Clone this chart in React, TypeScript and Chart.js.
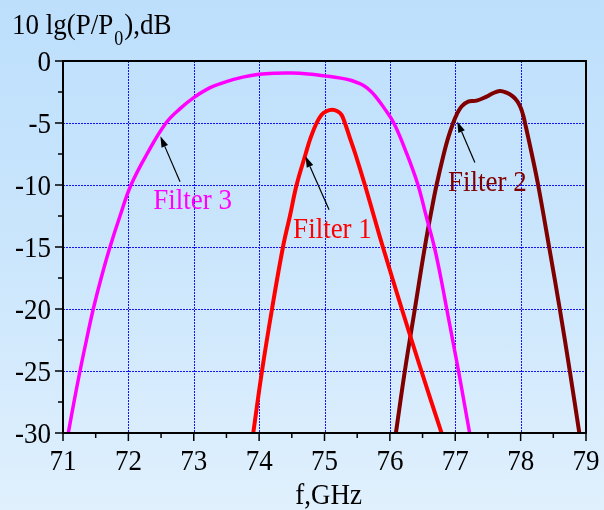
import { useEffect, useRef } from 'react';
import { Chart, registerables } from 'chart.js';

Chart.register(...registerables);

// Frequency axis (GHz) and level axis (dB) ranges
const freqMin = 71;
const freqMax = 79;
const levelMin = -30;
const levelMax = 0;
const freqTicks = [71, 72, 73, 74, 75, 76, 77, 78, 79];
const levelTicks = [0, -5, -10, -15, -20, -25, -30];

// Filter 1 response
const filter1Freq = [73.91, 74.044, 74.197, 74.365, 74.471, 74.573, 74.711, 74.787, 74.879, 74.956, 75.029, 75.118, 75.197, 75.261, 75.312, 75.388, 75.472, 75.618, 75.755, 75.893, 76.183, 76.482, 76.791];
const filter1Level = [-30, -25, -20, -15, -12.5, -10, -7.5, -6.2, -5, -4.34, -4.05, -3.94, -4.05, -4.34, -5, -6.2, -7.5, -10, -12.5, -15, -20, -25, -30];

// Filter 2 response
const filter2Freq = [76.092, 76.229, 76.382, 76.535, 76.653, 76.714, 76.815, 76.891, 76.968, 77.02, 77.096, 77.197, 77.326, 77.479, 77.575, 77.682, 77.784, 77.88, 77.95, 78.0, 78.04, 78.08, 78.171, 78.268, 78.436, 78.599, 78.752, 78.898];
const filter2Level = [-30, -25, -20, -15, -11.6, -10, -7.7, -6.2, -5, -4.34, -3.67, -3.27, -3.2, -2.87, -2.6, -2.41, -2.55, -2.85, -3.25, -3.75, -4.4, -5.3, -7.5, -10, -15, -20, -25, -30];

// Filter 3 response
const filter3Freq = [71.081, 71.168, 71.26, 71.359, 71.463, 71.584, 71.719, 71.872, 72.04, 72.284, 72.575, 72.8, 73.0, 73.25, 73.5, 73.75, 74.0, 74.25, 74.5, 74.75, 75.0, 75.25, 75.4, 75.52, 75.62, 75.7, 75.78, 75.9, 76.06, 76.26, 76.43, 76.555, 76.68, 76.78, 76.87, 76.96, 77.05, 77.135, 77.22];
const filter3Level = [-30, -27.5, -25, -22.5, -20, -17.5, -15, -12.5, -10, -7.5, -5, -3.8, -2.95, -2.15, -1.66, -1.3, -1.07, -0.98, -0.97, -1.05, -1.2, -1.38, -1.55, -1.78, -2.05, -2.4, -2.85, -3.7, -5, -7.5, -10, -12.5, -15, -17.5, -20, -22.5, -25, -27.5, -30];

// Curve labels: text, colour, label anchor (left, baseline) and arrow tail/tip, in axis units
const labelNames = ['Filter 1', 'Filter 2', 'Filter 3'];
const labelColors = ['#ff0000', '#800000', '#ff00ff'];
const labelAnchors = [[74.52, -14.3], [76.89, -10.45], [72.38, -11.9]];
const arrowTails = [[75.07, -12.0], [77.3, -8.18], [72.79, -9.73]];
const arrowTips = [[74.71, -7.69], [77.03, -4.88], [72.49, -6.07]];

const FONT = '"Liberation Serif", "Times New Roman", serif';
const SX = 0.9;

function toPoints(xs: number[], ys: number[]) {
  return xs.map((x, i) => ({ x, y: ys[i] }));
}

function drawText(
  ctx: CanvasRenderingContext2D,
  text: string,
  x: number,
  y: number,
  align: CanvasTextAlign,
  size: number,
  color: string,
) {
  ctx.save();
  ctx.translate(x, y);
  ctx.scale(SX, 1);
  ctx.font = `${size}px ${FONT}`;
  ctx.fillStyle = color;
  ctx.textAlign = align;
  ctx.textBaseline = 'alphabetic';
  ctx.fillText(text, 0, 0);
  ctx.restore();
}

const frame = {
  id: 'frame',
  beforeDatasetsDraw(chart: any) {
    const { ctx, chartArea: a, scales } = chart;
    const xs = scales.x;
    const ys = scales.y;
    ctx.save();
    ctx.strokeStyle = '#1414f0';
    ctx.lineWidth = 1;
    ctx.setLineDash([2, 1]);
    freqTicks.slice(1, -1).forEach((v) => {
      const px = Math.round(xs.getPixelForValue(v)) + 0.5;
      ctx.beginPath();
      ctx.moveTo(px, a.top);
      ctx.lineTo(px, a.bottom);
      ctx.stroke();
    });
    levelTicks.slice(1, -1).forEach((v) => {
      const py = Math.round(ys.getPixelForValue(v)) + 0.5;
      ctx.beginPath();
      ctx.moveTo(a.left, py);
      ctx.lineTo(a.right, py);
      ctx.stroke();
    });
    ctx.restore();
  },
  afterDraw(chart: any) {
    const { ctx, chartArea: a, scales } = chart;
    const xs = scales.x;
    const ys = scales.y;
    ctx.save();
    // box
    ctx.strokeStyle = '#000';
    ctx.lineWidth = 2;
    ctx.setLineDash([]);
    ctx.strokeRect(a.left, a.top, a.right - a.left, a.bottom - a.top);

    // tick marks (major and half-step minor)
    ctx.lineWidth = 1.5;
    for (let v = freqMin; v <= freqMax + 1e-9; v += 0.5) {
      const px = xs.getPixelForValue(v);
      const major = Math.abs(v - Math.round(v)) < 1e-6;
      ctx.beginPath();
      ctx.moveTo(px, a.bottom);
      ctx.lineTo(px, a.bottom + (major ? 8 : 5));
      ctx.stroke();
    }
    for (let v = levelMin; v <= levelMax + 1e-9; v += 2.5) {
      const py = ys.getPixelForValue(v);
      const major = Math.abs(v / 5 - Math.round(v / 5)) < 1e-6;
      ctx.beginPath();
      ctx.moveTo(a.left, py);
      ctx.lineTo(a.left - (major ? 8 : 5), py);
      ctx.stroke();
    }

    // tick labels
    freqTicks.forEach((v) => {
      drawText(ctx, String(v), xs.getPixelForValue(v), a.bottom + 37, 'center', 30, '#000');
    });
    levelTicks.forEach((v) => {
      drawText(ctx, String(v), a.left - 12, ys.getPixelForValue(v) + 10, 'right', 30, '#000');
    });

    // axis titles
    drawText(ctx, 'f,GHz', (a.left + a.right) / 2 + 4, 504, 'center', 30, '#000');
    const t1 = '10 lg(P/P';
    ctx.font = `30px ${FONT}`;
    const w1 = ctx.measureText(t1).width * SX;
    drawText(ctx, t1, 12, 34, 'left', 30, '#000');
    ctx.font = `20px ${FONT}`;
    const w2 = ctx.measureText('0').width * SX;
    drawText(ctx, '0', 12 + w1 + 1, 45, 'left', 20, '#000');
    drawText(ctx, '),dB', 12 + w1 + w2 + 2, 34, 'left', 30, '#000');

    // curve labels with arrows
    labelNames.forEach((name, i) => {
      const lx = xs.getPixelForValue(labelAnchors[i][0]);
      const ly = ys.getPixelForValue(labelAnchors[i][1]);
      drawText(ctx, name, lx, ly, 'left', 30, labelColors[i]);

      const x0 = xs.getPixelForValue(arrowTails[i][0]);
      const y0 = ys.getPixelForValue(arrowTails[i][1]);
      const x1 = xs.getPixelForValue(arrowTips[i][0]);
      const y1 = ys.getPixelForValue(arrowTips[i][1]);
      const ang = Math.atan2(y1 - y0, x1 - x0);
      const headLen = 11;
      const headHalf = 3.5;
      const bx = x1 - headLen * Math.cos(ang);
      const by = y1 - headLen * Math.sin(ang);
      ctx.strokeStyle = '#000';
      ctx.fillStyle = '#000';
      ctx.lineWidth = 1.2;
      ctx.beginPath();
      ctx.moveTo(x0, y0);
      ctx.lineTo(bx, by);
      ctx.stroke();
      ctx.beginPath();
      ctx.moveTo(x1, y1);
      ctx.lineTo(bx + headHalf * Math.sin(ang), by - headHalf * Math.cos(ang));
      ctx.lineTo(bx - headHalf * Math.sin(ang), by + headHalf * Math.cos(ang));
      ctx.closePath();
      ctx.fill();
    });
    ctx.restore();
  },
};

export default function App() {
  const canvasRef = useRef<HTMLCanvasElement | null>(null);

  useEffect(() => {
    document.body.style.margin = '0';
    const canvas = canvasRef.current;
    if (!canvas) return;
    const chart = new Chart(canvas, {
      type: 'line',
      data: {
        datasets: [
          {
            label: 'Filter 3',
            data: toPoints(filter3Freq, filter3Level),
            borderColor: '#ff00ff',
            borderWidth: 3.5,
          },
          {
            label: 'Filter 1',
            data: toPoints(filter1Freq, filter1Level),
            borderColor: '#ff0000',
            borderWidth: 4,
          },
          {
            label: 'Filter 2',
            data: toPoints(filter2Freq, filter2Level),
            borderColor: '#800000',
            borderWidth: 4,
          },
        ],
      },
      options: {
        responsive: false,
        animation: false,
        events: [],
        layout: { padding: { left: 0, right: 18, top: 61, bottom: 0 } },
        elements: {
          point: { radius: 0 },
          line: { tension: 0.4, fill: false, borderCapStyle: 'butt', borderJoinStyle: 'round' },
        },
        plugins: {
          legend: { display: false },
          tooltip: { enabled: false },
          title: { display: false },
        },
        scales: {
          x: {
            type: 'linear',
            min: freqMin,
            max: freqMax,
            ticks: { display: false, stepSize: 1 },
            grid: { display: false },
            border: { display: false },
            afterFit: (s: any) => {
              s.height = 77;
            },
          },
          y: {
            type: 'linear',
            min: levelMin,
            max: levelMax,
            ticks: { display: false, stepSize: 5 },
            grid: { display: false },
            border: { display: false },
            afterFit: (s: any) => {
              s.width = 63;
            },
          },
        },
      },
      plugins: [frame],
    });
    return () => chart.destroy();
  }, []);

  return (
    <div
      style={{
        position: 'absolute',
        left: 0,
        top: 0,
        width: 604,
        height: 510,
        background: 'linear-gradient(to bottom, #bddffc 0%, #c9e5fc 45%, #e0f0fd 100%)',
      }}
    >
      <canvas ref={canvasRef} width={604} height={510} style={{ display: 'block' }} />
    </div>
  );
}
